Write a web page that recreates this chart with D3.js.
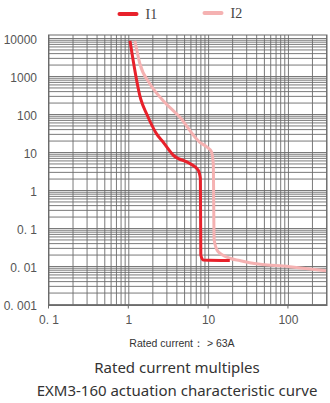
<!DOCTYPE html>
<html lang="en">
<head>
<meta charset="utf-8">
<title>EXM3-160 actuation curve</title>
<script src="https://cdn.jsdelivr.net/npm/d3@7"></script>
<style>
  body { margin: 0; background: #fff; }
  svg { display: block; }
</style>
</head>
<body>
<script>
// curve data (current multiple, seconds)
var i1X = [1.05, 1.43, 1.70, 2.26, 2.74, 3.65, 5.9, 7.5, 8.0, 8.1, 8.66, 18.7];
var i1Y = [8500, 248, 100, 30, 18, 8.3, 5.0, 3.36, 2.0, 0.0195, 0.0144, 0.0139];
var i2X = [1.21, 1.40, 1.87, 2.74, 4.43, 7.88, 9.55, 11.0, 11.6, 11.9, 13.3, 18.7, 24.9, 33, 105, 300];
var i2Y = [8500, 2070, 617, 224, 82, 18, 13.8, 10.2, 5.0, 0.048, 0.024, 0.016, 0.0139, 0.0122, 0.0096, 0.0075];

var seriesNames = ["I1", "I2"];
var yTickValues = [10000, 1000, 100, 10, 1, 0.1, 0.01, 0.001];
var yTickLabels = ["10000", "1000", "100", "10", "1", "0. 1", "0. 01", "0. 001"];
var xTickValues = [0.1, 1, 10, 100];
var xTickLabels = ["0. 1", "1", "10", "100"];

var w = 330, h = 403;
// plot box (note: "top" is reserved on window, so use other names)
var plotL = 48.5, plotR = 327, plotT = 35, plotB = 305.5;

var svg = d3.select("body").append("svg")
  .attr("width", w)
  .attr("height", h);

var x = d3.scaleLog().domain([0.1, 300]).range([plotL, 326]);
var y = d3.scaleLog().domain([0.001, 10000]).range([304, 38]);

// grid lines: 1..9 in every decade
var xGrid = [];
[0.1, 1, 10, 100].forEach(function(d) {
  for (var k = 1; k <= 9; k++) if (d * k <= 300) xGrid.push(d * k);
});
var yGrid = [];
[0.001, 0.01, 0.1, 1, 10, 100, 1000].forEach(function(d) {
  for (var k = 1; k <= 9; k++) yGrid.push(d * k);
});
yGrid.push(10000);

svg.append("g")
  .attr("class", "grid")
  .attr("transform", "translate(0," + plotB + ")")
  .call(d3.axisBottom(x).tickValues(xGrid).tickSize(-(plotB - plotT)).tickFormat(""))
  .call(function(g) { g.select(".domain").remove(); });

svg.append("g")
  .attr("class", "grid")
  .attr("transform", "translate(" + plotL + ",0)")
  .call(d3.axisLeft(y).tickValues(yGrid).tickSize(-(plotR - plotL)).tickFormat(""))
  .call(function(g) { g.select(".domain").remove(); });

svg.selectAll(".grid line")
  .attr("stroke", "#6b6b6b")
  .attr("stroke-width", 0.9);

// frame
svg.append("rect")
  .attr("x", plotL).attr("y", plotT)
  .attr("width", plotR - plotL).attr("height", plotB - plotT)
  .attr("fill", "none")
  .attr("stroke", "#6b6b6b")
  .attr("stroke-width", 1);

// small ticks under the decades
svg.selectAll(".btick")
  .data(xTickValues)
  .enter().append("line")
  .attr("x1", function(d) { return x(d); })
  .attr("x2", function(d) { return x(d); })
  .attr("y1", plotB).attr("y2", plotB + 3)
  .attr("stroke", "#6b6b6b");

// axis labels
var yAxis = svg.append("g")
  .attr("transform", "translate(40,2)")
  .call(d3.axisLeft(y).tickValues(yTickValues).tickSize(0)
    .tickFormat(function(d, i) { return yTickLabels[i]; }));
yAxis.select(".domain").remove();
yAxis.selectAll("text")
  .attr("x", -3)
  .attr("fill", "#555")
  .style("font-family", "'Liberation Sans', Arial, sans-serif")
  .style("font-size", "12px");

var xAxis = svg.append("g")
  .attr("transform", "translate(0,312)")
  .call(d3.axisBottom(x).tickValues(xTickValues).tickSize(0)
    .tickFormat(function(d, i) { return xTickLabels[i]; }));
xAxis.select(".domain").remove();
xAxis.selectAll("text")
  .attr("fill", "#555")
  .style("font-family", "'Liberation Sans', Arial, sans-serif")
  .style("font-size", "12px");

// curves
var line = d3.line()
  .x(function(d) { return x(d[0]); })
  .y(function(d) { return y(d[1]); })
  .curve(d3.curveMonotoneX);

var colors = ["#e8212b", "#f5b2b2"];

svg.append("path")
  .datum(d3.zip(i2X, i2Y))
  .attr("d", line)
  .attr("fill", "none")
  .attr("stroke", colors[1])
  .attr("stroke-width", 3);

svg.append("path")
  .datum(d3.zip(i1X, i1Y))
  .attr("d", line)
  .attr("fill", "none")
  .attr("stroke", colors[0])
  .attr("stroke-width", 3);

// legend
var legendX = [119.5, 204.5];
var legendY = [14, 13];
seriesNames.forEach(function(name, i) {
  svg.append("line")
    .attr("x1", legendX[i]).attr("x2", legendX[i] + 17)
    .attr("y1", legendY[i]).attr("y2", legendY[i])
    .attr("stroke", colors[i])
    .attr("stroke-width", 4)
    .attr("stroke-linecap", "round");
  svg.append("text")
    .attr("x", legendX[i] + 26)
    .attr("y", legendY[i] + 5)
    .attr("fill", "#444")
    .style("font-family", "'Liberation Serif', 'DejaVu Serif', serif")
    .style("font-size", "14px")
    .text(name);
});

// captions
svg.append("text")
  .attr("x", 182).attr("y", 347)
  .attr("text-anchor", "middle")
  .attr("fill", "#333")
  .style("font-family", "'Liberation Sans', Arial, sans-serif")
  .style("font-size", "10.5px")
  .text("Rated current：  > 63A");

svg.append("text")
  .attr("x", 177).attr("y", 373)
  .attr("text-anchor", "middle")
  .attr("fill", "#333")
  .style("font-family", "'Noto Sans', sans-serif")
  .style("font-size", "15px")
  .text("Rated current multiples");

svg.append("text")
  .attr("x", 177).attr("y", 396)
  .attr("text-anchor", "middle")
  .attr("fill", "#333")
  .style("font-family", "'Noto Sans', sans-serif")
  .style("font-size", "15px")
  .text("EXM3-160 actuation characteristic curve");
</script>
</body>
</html>
